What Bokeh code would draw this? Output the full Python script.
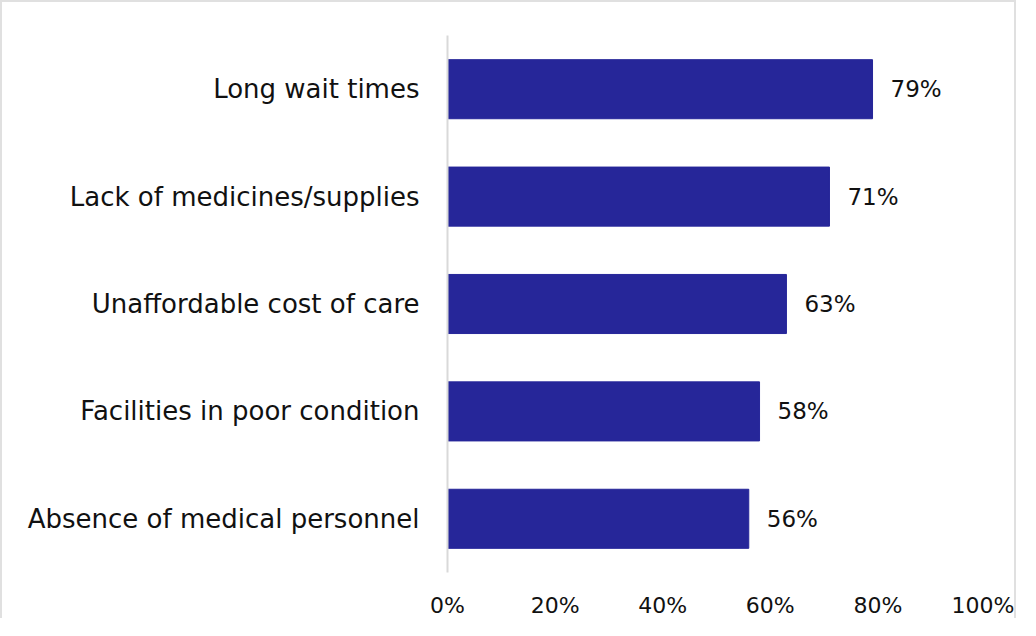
from bokeh.plotting import figure
from bokeh.models import ColumnDataSource, FixedTicker, PrintfTickFormatter, Range1d, FactorRange
from bokeh.core.properties import value
from bokeh.embed import file_html
from bokeh.resources import INLINE

categories = ["Long wait times", "Lack of medicines/supplies", "Unaffordable cost of care",
              "Facilities in poor condition", "Absence of medical personnel"]
values = [79, 71, 63, 58, 56]
x_ticks = [0, 20, 40, 60, 80, 100]

FONT = "DejaVu Sans"
labels = [f"{v}%" for v in values]
src = ColumnDataSource(dict(cat=categories, val=values, lab=labels))

p = figure(y_range=FactorRange(*reversed(categories)), x_range=Range1d(0, 100),
           width=1016, height=618, output_backend="svg", toolbar_location=None,
           min_border_left=445, min_border_right=33, min_border_top=33, min_border_bottom=43)
p.styles = {"border": "2px solid #e0e0e0", "border-bottom": "none"}
p.outline_line_color = None
p.background_fill_color = "white"
p.border_fill_color = "white"

p.hbar(y="cat", right="val", left=0, height=0.55, color="#262699", source=src)
p.text(x="val", y="cat", text="lab", source=src, x_offset=18, text_baseline="middle",
       text_align="left", text_font=value(FONT), text_font_size="23px", text_color="#111111")

p.xgrid.visible = False
p.ygrid.visible = False

p.xaxis.ticker = FixedTicker(ticks=x_ticks)
p.xaxis.formatter = PrintfTickFormatter(format="%d%%")
p.xaxis.axis_line_color = None
p.xaxis.major_tick_line_color = None
p.xaxis.minor_tick_line_color = None
p.xaxis.major_label_standoff = 14
p.xaxis.major_label_text_font = FONT
p.xaxis.major_label_text_font_size = "22px"
p.xaxis.major_label_text_color = "#111111"

p.yaxis.axis_line_color = "#d9d9d9"
p.yaxis.axis_line_width = 2
p.yaxis.major_tick_line_color = None
p.yaxis.minor_tick_line_color = None
p.yaxis.major_label_standoff = 22
p.yaxis.major_label_text_font = FONT
p.yaxis.major_label_text_font_size = "26px"
p.yaxis.major_label_text_color = "#111111"

open("out.html", "w").write(file_html(p, INLINE))
